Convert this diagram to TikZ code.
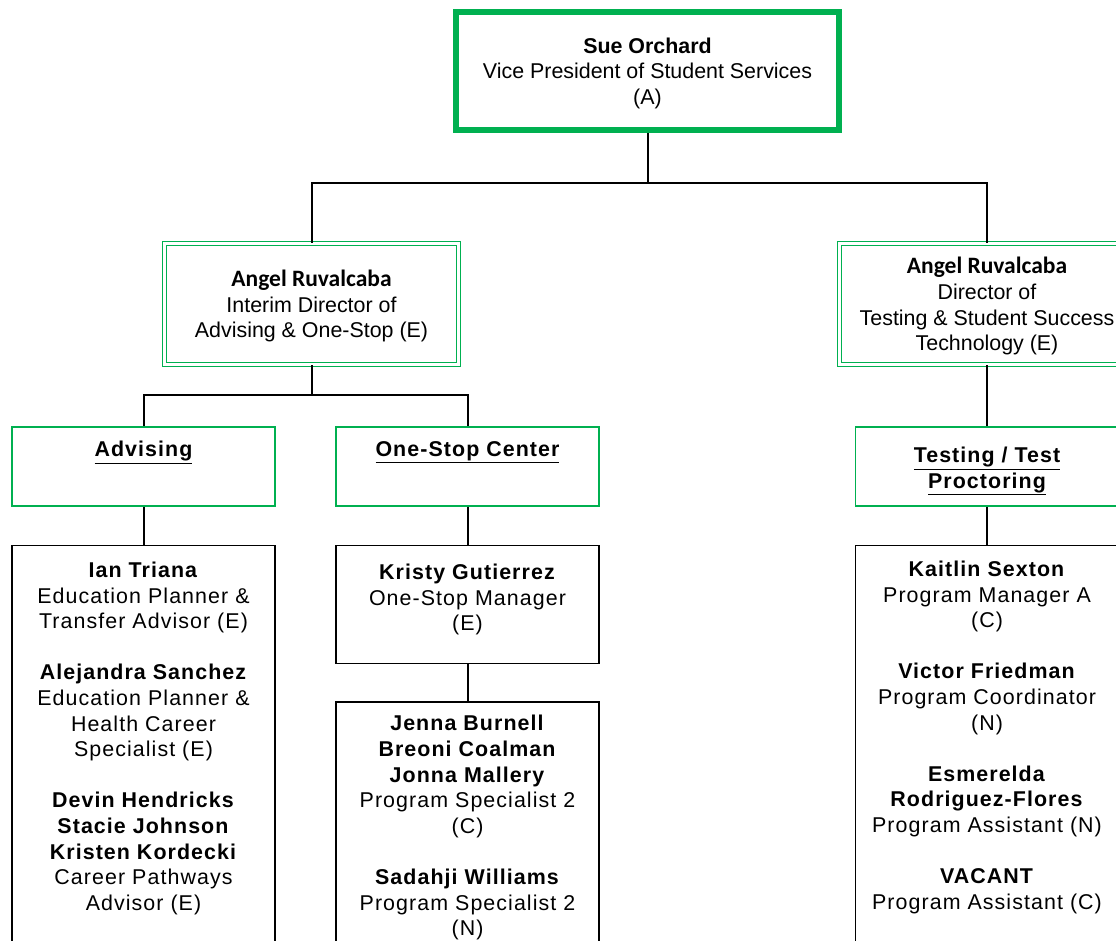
\documentclass[tikz,border=0pt]{standalone}
\usepackage{fontspec}
\setmainfont{Liberation Sans}
\newfontfamily\calibri{Carlito}
\usepackage{xcolor}
\usetikzlibrary{positioning}
\definecolor{offgreen}{HTML}{00B050}

\begin{document}
\begin{tikzpicture}[
        x=1pt, y=-1pt,
        font=\fontsize{21.4pt}{25.6pt}\selectfont,
        topbox/.style={rectangle, draw=offgreen, line width=6pt, minimum width=383pt, minimum height=118pt, align=center, inner sep=0pt, text depth=0pt},
        dirbox/.style={rectangle, draw=offgreen, double=white, double distance=2.5pt, line width=1.2pt, minimum width=294pt, minimum height=121pt, align=center, inner sep=0pt, text depth=0pt},
        unitbox/.style={rectangle, draw=offgreen, line width=1.5pt, minimum width=263pt, minimum height=79pt},
        staffbox/.style={rectangle, draw, line width=1.5pt, minimum width=263pt},
        names/.style={align=center, inner sep=0pt, font=\fontsize{21.4pt}{25.6pt}\selectfont\addfontfeature{LetterSpace=5}},
        link/.style={line width=2pt}
    ]
    \useasboundingbox (0,0) rectangle (1116,940);
    \clip (0,0) rectangle (1116,940);

    % Vice president
    \node (vp) [topbox] at (647.5,71) {\textbf{Sue Orchard}\\Vice President of Student Services\\(A)};

    % Directors
    \node (advdir) [dirbox] at (311.5,304) {{\calibri\bfseries\fontsize{23.5pt}{25.6pt}\selectfont Angel Ruvalcaba}\\Interim Director of\\Advising \& One-Stop (E)};
    \node (testdir) [dirbox, minimum width=295pt] at (987,304) {{\calibri\bfseries\fontsize{23.5pt}{25.6pt}\selectfont Angel Ruvalcaba}\\Director of\\Testing \& Student Success\\Technology (E)};
    \draw[link] (vp.south) -- ++(0,50) -| (advdir.north);
    \draw[link] (vp.south) -- ++(0,50) -| (testdir.north);

    % Units
    \node (advising) [unitbox] at (143.5,466.5) {};
    \node (onestop) [unitbox] at (467.5,466.5) {};
    \node (testing) [unitbox] at (987,466.5) {};
    \node (advisinglabel) [names, below=15pt of advising.north] {\textbf{\underline{Advising}}};
    \node (onestoplabel) [names, below=15pt of onestop.north] {\textbf{\underline{One-Stop Center}}};
    \node (testinglabel) [names, below=21pt of testing.north] {\textbf{\underline{Testing / Test}}\\\textbf{\underline{Proctoring}}};
    \draw[link] (advdir.south) -- ++(0,30) -| (advising.north);
    \draw[link] (advdir.south) -- ++(0,30) -| (onestop.north);
    \draw[link] (testdir.south) -- (testing.north);

    % Staff
    \node (advstaff) [staffbox, minimum height=450pt, below=38pt of advising] {};
    \node (advnames) [names, below=17pt of advstaff.north] {\textbf{Ian Triana}\\Education Planner \&\\Transfer Advisor (E)\\[25.6pt]
        \textbf{Alejandra Sanchez}\\Education Planner \&\\Health Career\\Specialist (E)\\[25.6pt]
        \textbf{Devin Hendricks}\\\textbf{Stacie Johnson}\\\textbf{Kristen Kordecki}\\Career Pathways\\Advisor (E)};
    \node (osmanager) [staffbox, names, minimum height=118pt, text depth=14.5pt, below=38pt of onestop] {\textbf{Kristy Gutierrez}\\One-Stop Manager\\(E)};
    \node (osstaff) [staffbox, minimum height=300pt, below=37pt of osmanager] {};
    \node (osnames) [names, below=14pt of osstaff.north] {\textbf{Jenna Burnell}\\\textbf{Breoni Coalman}\\\textbf{Jonna Mallery}\\Program Specialist 2\\(C)\\[25.6pt]
        \textbf{Sadahji Williams}\\Program Specialist 2\\(N)};
    \node (teststaff) [staffbox, minimum height=450pt, below=38pt of testing] {};
    \node (testnames) [names, below=16pt of teststaff.north] {\textbf{Kaitlin Sexton}\\Program Manager A\\(C)\\[25.6pt]
        \textbf{Victor Friedman}\\Program Coordinator\\(N)\\[25.6pt]
        \textbf{Esmerelda}\\\textbf{Rodriguez-Flores}\\Program Assistant (N)\\[25.6pt]
        \textbf{VACANT}\\Program Assistant (C)};
    \draw[link] (advising) -- (advstaff);
    \draw[link] (onestop) -- (osmanager);
    \draw[link] (osmanager) -- (osstaff);
    \draw[link] (testing) -- (teststaff);

\end{tikzpicture}
\end{document}
